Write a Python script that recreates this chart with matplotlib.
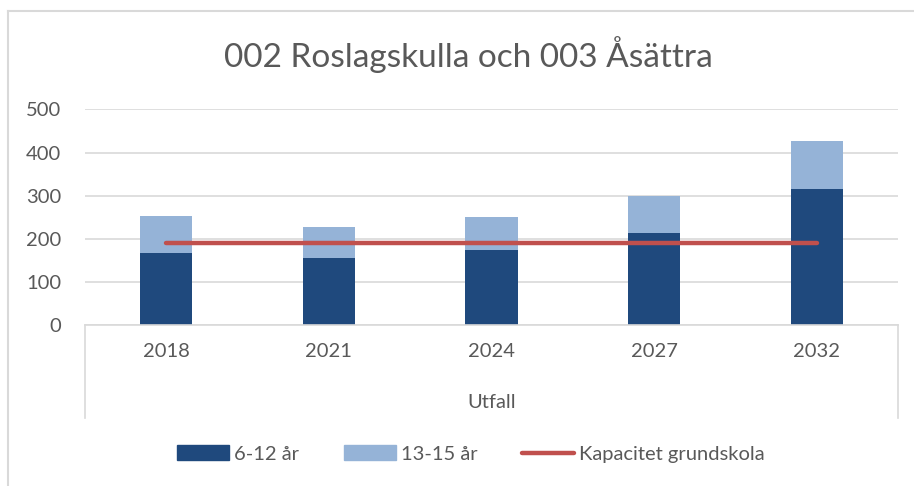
import matplotlib.pyplot as plt
from matplotlib.lines import Line2D
from matplotlib.patches import Patch

plt.rcParams['font.family'] = ['Lato', 'DejaVu Sans']

# Data
years = ['2018', '2021', '2024', '2027', '2032']
age_6_12 = [167, 155, 173, 213, 316]
age_13_15 = [86, 72, 77, 86, 111]
capacity = [190, 190, 190, 190, 190]

dark = '#1f497d'
light = '#95b3d7'
red = '#c0504d'
grey_text = '#595959'
grid_col = '#d9d9d9'

W, H = 914, 486
fig = plt.figure(figsize=(W / 100, H / 100), dpi=100)

def fx(px):
    return px / W

def fy(py):
    return 1 - py / H

# outer chart border (top and left visible)
fig.add_artist(Line2D([fx(8), fx(914)], [fy(11), fy(11)], color=grid_col, lw=1.5))
fig.add_artist(Line2D([fx(8), fx(8)], [fy(11), fy(486)], color=grid_col, lw=1.5))

ax = fig.add_axes([fx(85), fy(325), fx(898) - fx(85), fy(109.5) - fy(325)])

x = list(range(len(years)))
ax.bar(x, age_6_12, width=0.32, color=dark, zorder=2)
ax.bar(x, age_13_15, width=0.32, bottom=age_6_12, color=light, zorder=2)
ax.plot(x, capacity, color=red, lw=3.2, solid_capstyle='round', zorder=3)

fs = 14.5
ax.set_xlim(-0.5, 4.5)
ax.set_ylim(0, 500)
ax.set_yticks(range(0, 501, 100))
ax.yaxis.grid(True, color=grid_col, lw=1.2, zorder=0)
ax.tick_params(axis='y', length=0, pad=17, labelsize=fs, labelcolor=grey_text)
ax.set_xticks(x)
ax.set_xticklabels(years)
ax.tick_params(axis='x', length=0, pad=13, labelsize=fs, labelcolor=grey_text)
for s in ['top', 'right', 'left']:
    ax.spines[s].set_visible(False)
ax.spines['bottom'].set_color(grid_col)
ax.spines['bottom'].set_linewidth(1.2)

# multi-level category box and label
fig.add_artist(Line2D([fx(85), fx(85)], [fy(325), fy(418)], color=grid_col, lw=1.2))
fig.add_artist(Line2D([fx(898), fx(898)], [fy(325), fy(418)], color=grid_col, lw=1.2))
fig.text(fx(491.5), fy(402), 'Utfall', ha='center', va='center', fontsize=fs, color=grey_text)

fig.text(fx(468.5), fy(55), '002 Roslagskulla och 003 Åsättra', ha='center', va='center',
         fontsize=24, color=grey_text)

handles = [Patch(color=dark), Patch(color=light),
           Line2D([], [], color=red, lw=3.2, solid_capstyle='round')]
labels = ['6-12 år', '13-15 år', 'Kapacitet grundskola']
fig.legend(handles, labels, loc='center', bbox_to_anchor=(fx(471), fy(454)), ncol=3, frameon=False,
           fontsize=fs, labelcolor=grey_text, handlelength=2.6, handleheight=0.7,
           handletextpad=0.25, columnspacing=2.2)

fig.savefig('out.png', dpi=100)
